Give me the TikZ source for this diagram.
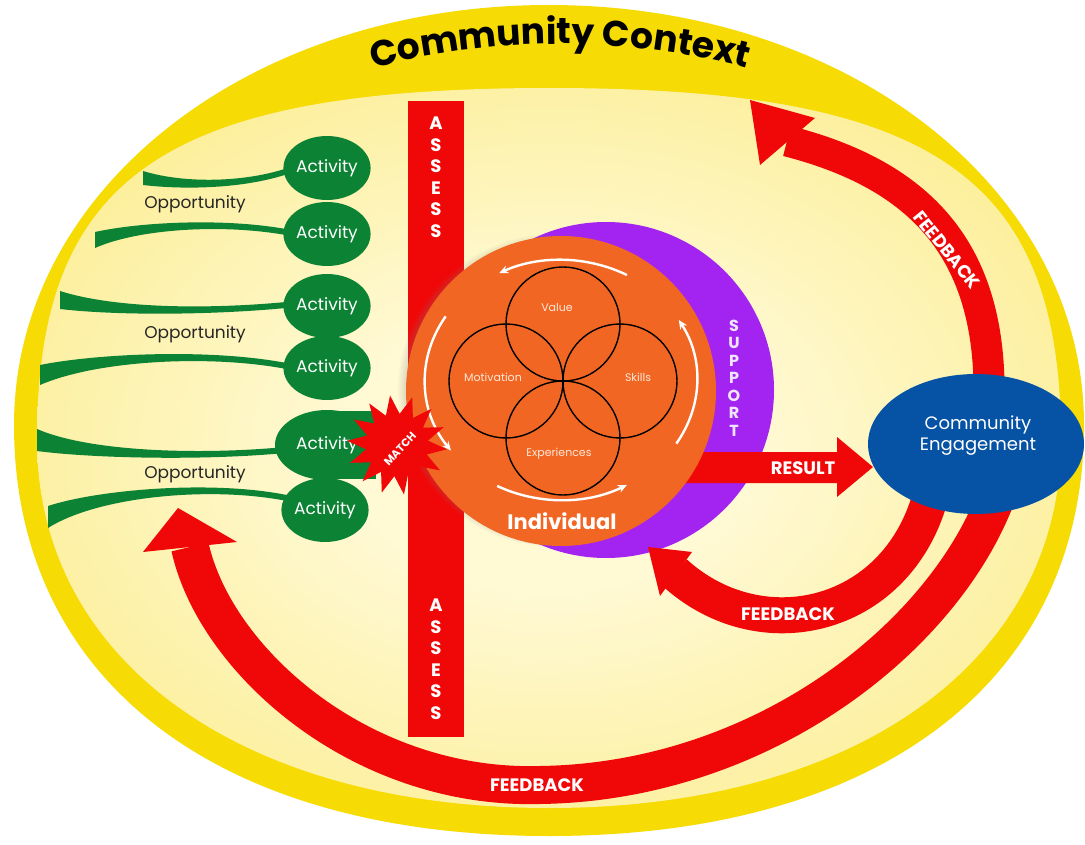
\documentclass[tikz,border=0pt]{standalone}
\usepackage{fontspec}
\setmainfont{Poppins}
\usetikzlibrary{shapes.geometric,decorations.text,shadows,arrows.meta}
\definecolor{ygold}{RGB}{246,219,4}
\definecolor{ylight}{RGB}{255,249,212}
\definecolor{ymid}{RGB}{252,238,150}
\definecolor{yedge}{RGB}{250,228,96}
\definecolor{redc}{RGB}{240,8,8}
\definecolor{greenc}{RGB}{12,130,52}
\definecolor{orangec}{RGB}{242,102,36}
\definecolor{purplec}{RGB}{163,36,240}
\definecolor{bluec}{RGB}{6,82,165}
\definecolor{lavender}{RGB}{240,228,255}
\definecolor{cream}{RGB}{252,232,215}
\pgfdeclareradialshading{bgglow}{\pgfpoint{0bp}{0bp}}{color(0bp)=(ylight); color(10bp)=(ylight); color(30bp)=(ymid); color(50bp)=(yedge)}
\newcommand{\greenhorn}[9]{\fill[greenc] (#1,#2-#9) .. controls (#3,#4-3) and (#5,#6-3) .. (#7,#8-3) -- (#7,#8+3) .. controls (#5,#6+3) and (#3,#4+3) .. (#1,#2+#9) -- cycle;}
\tikzset{
  actnode/.style={ellipse, fill=greenc, minimum width=82pt, minimum height=64pt, inner sep=0pt, text=white, font=\fontsize{17}{17}\selectfont},
  opptext/.style={text=black!85, font=\fontsize{17}{17}\selectfont},
  whitebold/.style={text=white, font=\bfseries\fontsize{18}{18}\selectfont},
  fbshaft/.style={draw=redc, line join=round},
  ringarrow/.style={draw=white, line width=2.4pt, -{Stealth[length=9pt,width=8pt]}},
  petal/.style={circle, draw=black, line width=1.4pt, minimum size=114pt, inner sep=0pt},
  petallabel/.style={text=cream, font=\fontsize{11}{11}\selectfont},
  vertletters/.style={align=center, font=\bfseries\fontsize{18}{21.5}\selectfont, text=white},
}
\begin{document}
\begin{tikzpicture}[x=1pt,y=-1pt]
\useasboundingbox (0,0) rectangle (1085,845);
\fill[white] (0,0) rectangle (1085,845);
% context ellipses
\fill[ygold] (549,5) .. controls (849,5) and (1084,190) .. (1084,425) .. controls (1084,680) and (881,836) .. (549,836) .. controls (217,836) and (14,680) .. (14,425) .. controls (14,190) and (249,5) .. (549,5) -- cycle;
\shade[shading=bgglow] (549,88) .. controls (933,88) and (1061,176) .. (1061,440) .. controls (1061,661) and (856,808) .. (549,808) .. controls (242,808) and (37,661) .. (37,440) .. controls (37,176) and (165,88) .. (549,88) -- cycle;
\path[decorate, decoration={text along path, text align=center, text={|\bfseries\fontsize{36}{36}\selectfont|Community Context}}] (560,777) ++(-120:733) arc[start angle=-120, end angle=-60, radius=733];
% opportunity lines
\greenhorn{143}{178}{185}{187}{250}{186}{296}{168}{7}
\greenhorn{95}{240}{140}{225}{230}{220}{296}{234}{8}
\greenhorn{60}{300}{120}{313}{220}{312}{296}{304}{9}
\greenhorn{40}{375}{100}{356}{220}{351}{296}{368}{10}
\greenhorn{37}{440}{90}{455}{200}{458}{285}{450}{11}
\greenhorn{48}{517}{100}{492}{220}{482}{296}{500}{11}
% activities
\node[actnode] (a1) at (327,168) {Activity};
\node[actnode] (a2) at (327,234) {Activity};
\node[actnode] (a3) at (327,306) {Activity};
\node[actnode] (a4) at (327,368) {Activity};
\fill[greenc] (327,411) rectangle (376,479);
\node[actnode, minimum width=104pt, minimum height=70pt] (a5) at (327,445) {Activity};
\node[actnode] (a6) at (325,510) {Activity};
\node[opptext] (o1) at (195,204) {Opportunity};
\node[opptext] (o2) at (195,334) {Opportunity};
\node[opptext] (o3) at (195,474) {Opportunity};
% assess bar
\node[fill=redc, minimum width=56pt, minimum height=636pt, inner sep=0pt] (assess) at (436,419) {};
\node[vertletters] (assesstop) at (436,177) {A\\S\\S\\E\\S\\S};
\node[vertletters] (assessbot) at (436,659) {A\\S\\S\\E\\S\\S};
% support
\node[circle, fill=purplec, minimum size=336pt, inner sep=0pt] (support) at (606,390) {};
\node[align=center, text=lavender, font=\bfseries\fontsize{16}{17.5}\selectfont] (supporttxt) at (734,378) {S\\U\\P\\P\\O\\R\\T};
% result arrow
\coordinate (rtip) at (873,467);
\fill[redc] (680,452) -- (837,452) -- (837,437) -- (rtip) -- (837,497) -- (837,483) -- (680,483) -- cycle;
\node[whitebold] (result) at (803,468) {RESULT};
% individual
\node[circle, fill=orangec, minimum size=310pt, inner sep=0pt, circular drop shadow={shadow xshift=-7pt, shadow yshift=1pt, opacity=0.7, shadow scale=1.01}] (indiv) at (561,391) {};
\node[petal] (pv) at (563,324) {};
\node[petal] (pm) at (506,381) {};
\node[petal] (ps) at (620,381) {};
\node[petal] (pe) at (563,438) {};
\node[petallabel] (lv) at (557,307) {Value};
\node[petallabel] (lm) at (493,377) {Motivation};
\node[petallabel] (ls) at (638,377) {Skills};
\node[petallabel] (le) at (559,454) {Experiences};
\coordinate (ringc) at (561,380);
\draw[ringarrow] (ringc) ++(-61:136 and 120) arc[start angle=-61, end angle=-117, x radius=136, y radius=120];
\draw[ringarrow] (ringc) ++(-148:136 and 120) arc[start angle=-148, end angle=-216, x radius=136, y radius=120];
\draw[ringarrow] (ringc) ++(-242:136 and 120) arc[start angle=-242, end angle=-299, x radius=136, y radius=120];
\draw[ringarrow] (ringc) ++(-328:136 and 120) arc[start angle=-328, end angle=-390, x radius=136, y radius=120];
\node[text=white, font=\bfseries\fontsize{21}{21}\selectfont] (indivlabel) at (562,521) {Individual};
% match
\node[star, star points=14, star point ratio=1.6, fill=redc, minimum size=100pt, inner sep=0pt, rotate=8] (match) at (397,445) {};
\node[text=white, rotate=47, font=\bfseries\fontsize{11}{11}\selectfont] (matchtxt) at (400,449) {MATCH};
% feedback arrows
\coordinate (fbBs) at (995,500);
\coordinate (fbBm) at (540,785);
\coordinate (fbBe) at (190,547);
\draw[fbshaft, line width=38pt] (fbBs) .. controls (940,640) and (760,782) .. (fbBm) .. controls (360,790) and (215,660) .. (fbBe);
\fill[redc] (178,508) -- (237,542) -- (143,552) -- cycle;
\coordinate (fbSs) at (930,498);
\coordinate (fbSe) at (675,573);
\draw[fbshaft, line width=36pt] (fbSs) .. controls (895,620) and (760,650) .. (fbSe);
\fill[redc] (648,547) -- (692,552) -- (660,596) -- cycle;
\coordinate (fbTs) at (989,400);
\coordinate (fbTe) at (787,141);
\draw[fbshaft, line width=31pt] (fbTs) .. controls (992,250) and (920,175) .. (fbTe);
\fill[redc] (750,100) -- (815,118) -- (760,165) -- cycle;
\node[whitebold] (fbBl) at (537,785) {FEEDBACK};
\node[whitebold] (fbSl) at (788,614) {FEEDBACK};
\node[whitebold, rotate=-51] (fbTl) at (947,250) {FEEDBACK};
% community engagement
\node[ellipse, fill=bluec, minimum width=216pt, minimum height=140pt, inner sep=0pt] (ce) at (976,444) {};
\node[align=center, text=white, font=\fontsize{18}{21}\selectfont] (cetxt) at (978,436) {Community\\Engagement};
\end{tikzpicture}
\end{document}
